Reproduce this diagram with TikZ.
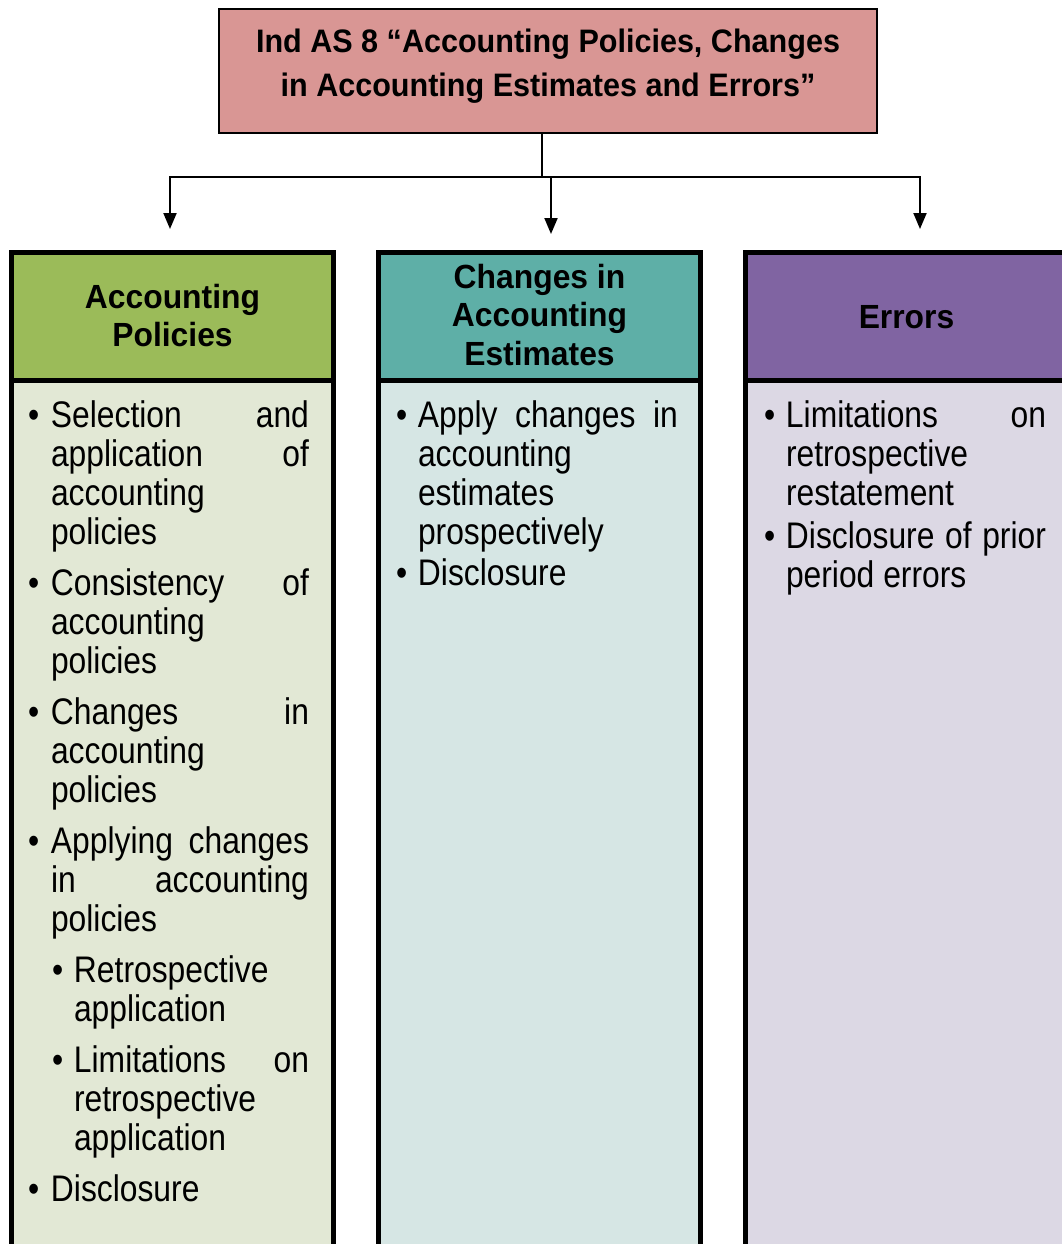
\documentclass[tikz,border=0pt]{standalone}
\usepackage{fontspec}
\setmainfont{Liberation Sans}
\newfontfamily\bodyfont[FakeStretch=0.86]{Liberation Sans}
\newfontfamily\headfont[FakeStretch=0.95]{Liberation Sans}
\newfontfamily\titlefont[FakeStretch=0.94]{Liberation Sans}
\usetikzlibrary{arrows.meta}
\definecolor{titlefill}{HTML}{D99694}
\definecolor{greenhead}{HTML}{9BBB59}
\definecolor{greenbody}{HTML}{E2E8D5}
\definecolor{tealhead}{HTML}{5EAFA7}
\definecolor{tealbody}{HTML}{D6E6E4}
\definecolor{purplehead}{HTML}{8064A2}
\definecolor{purplebody}{HTML}{DCD8E4}
\newlength\bulw \setlength\bulw{23pt}
\newlength\txw \setlength\txw{258pt}
% first line of a bullet item / following lines
\newcommand\bfirst[1]{\hbox{\hbox to \bulw{\textbullet\hfil}\hbox to \txw{#1}}}
\newcommand\bnext[1]{\hbox{\hspace*{\bulw}\hbox to \txw{#1}}}
% second-level item
\newcommand\sfirst[1]{\hbox{\hspace*{24pt}\hbox to 22pt{\textbullet\hfil}\hbox to 235pt{#1}}}
\newcommand\snext[1]{\hbox{\hspace*{46pt}\hbox to 235pt{#1}}}
\newcommand\bodyset{\bodyfont\fontsize{37}{39}\selectfont}
\newcommand\headset{\headfont\bfseries\fontsize{33.5}{38.5}\selectfont}
\begin{document}
\begin{tikzpicture}[x=1pt,y=-1pt,
  colbox/.style={draw=black,line width=4.5pt,inner sep=0pt,outer sep=0pt,minimum width=322pt},
  conn/.style={line width=2pt},
  arr/.style={conn,-{Triangle[width=13pt,length=16pt]}},
  txt/.style={inner sep=0pt,outer sep=0pt}]
\fill[white] (0,0) rectangle (1062,1244);
\useasboundingbox (0,0) rectangle (1062,1244);
\clip (0,0) rectangle (1062,1244);

% title
\node[draw=black,line width=2pt,fill=titlefill,minimum width=658pt,minimum height=124pt,inner sep=0pt] (T) at (548,71) {};
\node[txt,anchor=base] (TT) at (548,53) {\parbox[t]{650pt}{\centering\titlefont\bfseries\fontsize{32.5}{44}\selectfont Ind AS 8 “Accounting Policies, Changes\\in Accounting Estimates and Errors”}};

% column headers
\node[colbox,fill=greenhead,minimum height=128pt] (H1) at (172.5,316.5) {};
\node[colbox,fill=tealhead,minimum height=128pt] (H2) at (539.5,316.5) {};
\node[colbox,fill=purplehead,minimum height=128pt] (H3) at (906.5,316.5) {};

% column bodies
\node[colbox,fill=greenbody,minimum height=1000pt,anchor=north] (B1) at (H1.south) {};
\node[colbox,fill=tealbody,minimum height=1000pt,anchor=north] (B2) at (H2.south) {};
\node[colbox,fill=purplebody,minimum height=1000pt,anchor=north] (B3) at (H3.south) {};
\draw[line width=4.5pt] (H1.south west) -- (H1.south east);
\draw[line width=4.5pt] (H2.south west) -- (H2.south east);
\draw[line width=4.5pt] (H3.south west) -- (H3.south east);

% header texts
\node[txt,anchor=base] (HT1) at (172.5,308) {\parbox[t]{310pt}{\centering\headset Accounting\\Policies}};
\node[txt,anchor=base] (HT2) at (539.5,288) {\parbox[t]{310pt}{\centering\headset Changes in\\Accounting\\Estimates}};
\node[txt,anchor=base] (HT3) at (906.5,328) {\parbox[t]{310pt}{\centering\headset Errors}};

% body texts
\node[txt,anchor=base west] (BT1) at (28,427) {\parbox[t]{290pt}{\bodyset
\setlength\txw{258pt}%
\bfirst{Selection\hfill and}
\bnext{application\hfill of}
\bnext{accounting\hfil}
\bnext{policies\hfil}
\vspace{12pt}
\bfirst{Consistency\hfill of}
\bnext{accounting\hfil}
\bnext{policies\hfil}
\vspace{12pt}
\bfirst{Changes\hfill in}
\bnext{accounting\hfil}
\bnext{policies\hfil}
\vspace{12pt}
\bfirst{Applying\hfill changes}
\bnext{in\hfill accounting}
\bnext{policies\hfil}
\vspace{12pt}
\sfirst{Retrospective\hfil}
\snext{application\hfil}
\vspace{12pt}
\sfirst{Limitations\hfill on}
\snext{retrospective\hfil}
\snext{application\hfil}
\vspace{12pt}
\bfirst{Disclosure\hfil}}};

\node[txt,anchor=base west] (BT2) at (396,427) {\parbox[t]{290pt}{\bodyset
\setlength\bulw{22pt}\setlength\txw{260pt}%
\bfirst{Apply\hfill changes\hfill in}
\bnext{accounting\hfil}
\bnext{estimates\hfil}
\bnext{prospectively\hfil}
\vspace{2pt}
\bfirst{Disclosure\hfil}}};

\node[txt,anchor=base west] (BT3) at (764,427) {\parbox[t]{290pt}{\bodyset
\setlength\bulw{22pt}\setlength\txw{260pt}%
\bfirst{Limitations\hfill on}
\bnext{retrospective\hfil}
\bnext{restatement\hfil}
\vspace{4pt}
\bfirst{Disclosure\hfill of\hfill prior}
\bnext{period errors\hfil}}};

% connectors
\coordinate (busM) at (542,177);
\coordinate (busL) at (170,177);
\coordinate (busR) at (920,177);
\coordinate (busC) at (551,177);
\coordinate (aL) at (170,229);
\coordinate (aC) at (551,234);
\coordinate (aR) at (920,229);
\draw[conn] ([xshift=-6pt]T.south) -- (busM);
\draw[conn] ([xshift=-1pt]busL) -- ([xshift=1pt]busR);
\draw[arr] (busL) -- (aL);
\draw[arr] (busC) -- (aC);
\draw[arr] (busR) -- (aR);
\end{tikzpicture}
\end{document}
